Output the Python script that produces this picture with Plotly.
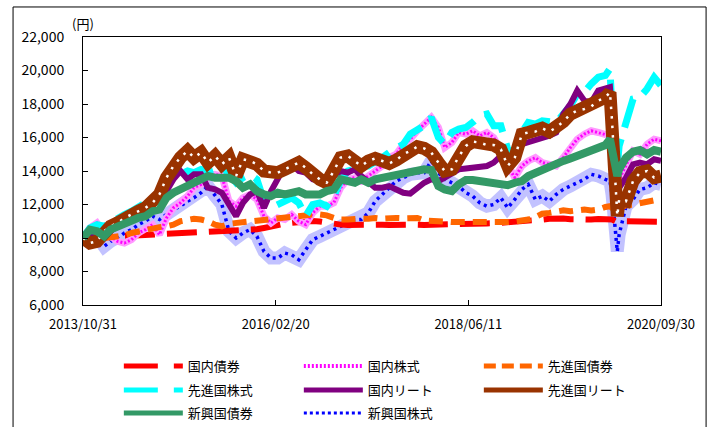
import pandas as pd
import plotly.graph_objects as go

# ---- data ----
dates = (list(pd.date_range("2013-10-31", "2020-01-31", freq="ME").strftime("%Y-%m-%d"))
         + ["2020-02-20", "2020-02-29", "2020-03-23", "2020-03-31"]
         + list(pd.date_range("2020-04-30", "2020-09-30", freq="ME").strftime("%Y-%m-%d")))

jp_bond = [10000, 10020, 10050, 10060, 10080, 10100, 10120, 10150, 10180, 10200,
           10220, 10260, 10300, 10320, 10300, 10280, 10330, 10350, 10380, 10360,
           10400, 10420, 10450, 10470, 10500, 10520, 10600, 10700, 10800, 10850,
           10900, 10950, 11000, 11020, 10980, 10900, 10850, 10800, 10780, 10800,
           10800, 10820, 10800, 10790, 10780, 10800, 10790, 10800, 10790, 10780,
           10800, 10820, 10830, 10840, 10850, 10850, 10840, 10860, 10870, 10880,
           10900, 10920, 10960, 10990, 11020, 11050, 11100, 11150, 11200, 11170,
           11120, 11100, 11080, 11100, 11130, 11150,
           11150, 11100, 10950, 10980,
           11000, 10990, 11000, 10990, 10980, 10970]

jp_stock = [10000, 10600, 10900, 10300, 10100, 9800, 9700, 9900, 10300, 10500,
            10800, 10200, 11200, 11800, 12100, 12500, 13000, 13200, 13600, 13800,
            13700, 12200, 11900, 12400, 12600, 12300, 11300, 10900, 11200, 11100,
            11400, 11000, 10800, 11500, 11900, 11900, 12100, 13000, 13500, 13600,
            13400, 13700, 14000, 14300, 14800, 15000, 15600, 15900, 16400, 16800,
            17200, 16600, 15400, 15700, 16300, 16200, 16400, 16100, 16300, 16000,
            15200, 14300, 13600, 14300, 14600, 14800, 14500, 14400, 14300, 14800,
            15400, 15900, 16200, 16400, 16300, 16200,
            16100, 14500, 12700, 13500,
            14300, 15200, 15000, 15600, 15900, 15800]

dev_bond = [10000, 10050, 10100, 10000, 10050, 10100, 10150, 10300, 10400, 10450,
            10550, 10650, 10700, 10800, 11000, 11100, 11150, 11100, 11000, 10800,
            10700, 10850, 10900, 10950, 11000, 11050, 11100, 11150, 11200, 11200,
            11250, 11300, 11350, 11400, 11400, 11350, 11200, 11100, 11100, 11150,
            11150, 11150, 11200, 11150, 11200, 11200, 11180, 11150, 11200, 11050,
            11000, 10950, 10980, 10950, 10950, 10900, 10880, 10900, 10870, 10880,
            10900, 10950, 10980, 11000, 11100, 11250, 11450, 11500, 11600, 11650,
            11600, 11650, 11700, 11650, 11700, 11850,
            11900, 11800, 11500, 11800,
            11950, 12000, 12100, 12200, 12250, 12280]

dev_stock = [10000, 10600, 10800, 10700, 10900, 11200, 11400, 11600, 11900, 12100,
             12300, 12500, 13200, 13600, 13800, 14000, 13900, 14100, 14000, 14200,
             14300, 13800, 13300, 13600, 13800, 13500, 12200, 11800, 12000, 12300,
             12400, 12100, 11300, 12000, 12100, 11900, 12500, 13400, 14000, 14100,
             14300, 14300, 14500, 14800, 15100, 15300, 15600, 16200, 16500, 16700,
             17200, 16000, 15600, 16300, 16500, 16600, 16900, 17300, 17400, 16700,
             16700, 15300, 15000, 16300, 16900, 16800, 17000, 17000, 16900, 17400,
             17900, 18600, 18700, 19200, 19600, 19700,
             20100, 17500, 14300, 15500,
             16800, 18300, 18400, 18900, 19600, 19100]

jp_reit = [10000, 10300, 10200, 10000, 10400, 10800, 11000, 11200, 11500, 11800,
           12000, 12300, 12800, 13500, 14000, 13500, 13800, 13800, 13000, 12900,
           12700, 12000, 11300, 12100, 12600, 12800, 11800, 12800, 13600, 14300,
           14400, 14000, 13900, 13500, 13400, 13300, 13700, 14000, 13900, 14100,
           13700, 13300, 13000, 13000, 13100, 12900, 12700, 12650, 13000, 13300,
           13500, 13400, 13600, 13900, 14100, 14150, 14200, 14200, 14300, 14500,
           14900, 14600, 14700, 15600, 15700, 15800, 15950, 16100, 16300, 17400,
           18000, 18800, 18200, 18100, 18800, 18900,
           19000, 17400, 12500, 13000,
           13600, 14400, 14500, 14400, 14700, 14600]

dev_reit = [10000, 9700, 9800, 10400, 10700, 10900, 11200, 11400, 11600, 11800,
            12100, 12600, 13600, 14300, 14800, 15200, 14800, 15100, 14500, 14900,
            14400, 14800, 13700, 14700, 14600, 14400, 14000, 13900, 13900, 14100,
            14300, 14500, 14200, 13800, 13500, 13300, 14000, 14800, 14900, 14600,
            14300, 14600, 14750, 14600, 14450, 14650, 15000, 15200, 15450, 15350,
            15100, 14500, 14000, 14100, 14850, 15500, 15750, 15700, 15550, 15550,
            15300, 14300, 14800, 16200, 16300, 16350, 16550, 16350, 16600, 16950,
            17400, 17600, 17700, 17850, 18200, 18400,
            18700, 17000, 11300, 12300,
            12200, 13400, 13900, 14000, 13600, 13700]

em_bond = [10000, 10500, 10400, 10100, 10500, 10700, 10900, 11100, 11200, 11300,
           11600, 11700, 12400, 12700, 12900, 13200, 13400, 13600, 13700, 13600,
           13600, 13600, 13400, 13000, 13200, 12800, 12600, 12500, 12700, 12600,
           12700, 12800, 12600, 12600, 12600, 12800, 12900, 13500, 13400, 13300,
           13500, 13300, 13500, 13600, 13700, 13700, 13800, 14000, 14050, 14100,
           14060, 13100, 12900, 12800, 13200, 13460, 13460, 13400, 13360, 13300,
           13200, 13150, 13300, 13400, 13700, 13900, 14100, 14300, 14500, 14600,
           14750, 14900, 15000, 15150, 15400, 15550,
           15900, 15100, 13700, 14100,
           14800, 15150, 15250, 15000, 15250, 15150]

em_stock = [10000, 9900, 10100, 9500, 9800, 10000, 10300, 10500, 10800, 11000,
            11300, 11100, 11400, 11700, 11900, 12200, 12400, 12700, 13100, 12500,
            12000, 10400, 10000, 10300, 10500, 10100, 9200, 8800, 8800, 9100,
            9000, 8700, 9300, 9900, 10100, 10300, 10500, 10700, 10900, 11100,
            11100, 11500, 12200, 12600, 13000, 13400, 13600, 13800, 13900, 13900,
            14600, 13900, 13500, 13300, 13100, 12700, 12500, 12100, 11900, 12000,
            12400, 11800, 12300, 12900, 13200, 12300, 12500, 12200, 12600, 12900,
            13100, 13300, 13500, 13800, 13700, 13500,
            13400, 12600, 9200, 10200,
            11900, 12300, 12900, 13000, 13300, 13200]

tick_dates = ["2013-10-31", "2016-02-20", "2018-06-11", "2020-09-30"]
tick_labels = ["2013/10/31", "2016/02/20", "2018/06/11", "2020/09/30"]
y_ticks = [6000, 8000, 10000, 12000, 14000, 16000, 18000, 20000, 22000]

for s in [jp_bond, jp_stock, dev_bond, dev_stock, jp_reit, dev_reit, em_bond, em_stock]:
    assert len(s) == len(dates)

JP = "Noto Sans CJK JP"
fig = go.Figure()


def add(y, color, width, dash=None):
    fig.add_trace(go.Scatter(
        x=dates, y=y, mode="lines", showlegend=False, hoverinfo="skip",
        line=dict(color=color, width=width, dash=dash)))


def key(name, color, width, dash, legend):
    # legend-only entry (no data) so the key symbol can be drawn thinner
    fig.add_trace(go.Scatter(
        x=[None], y=[None], name=name, mode="lines", showlegend=True, legend=legend,
        line=dict(color=color, width=width, dash=dash)))


# drawing order (bottom -> top)
add(em_stock, "rgba(0,0,255,0.24)", 13)
add(em_stock, "#0000ff", 3.5, "3px,4px")
add(jp_bond, "#ff0000", 6, "30px,12px")
add(jp_stock, "#ff99ff", 7)
add(jp_stock, "#ff00ff", 3, "2px,2px")
add(dev_bond, "#ff6600", 6, "14px,8px")
add(dev_stock, "#00ffff", 7, "30px,12px")
add(jp_reit, "#800080", 6)
add(dev_reit, "#993300", 13)
add(dev_reit, "#ffffff", 2.5, "2.5px,7px")
add(em_bond, "#339966", 8)

# legend keys, one legend per row
key("国内債券", "#ff0000", 5, "34px,16px", "legend")
key("国内株式", "#ff00ff", 4, "2px,2px", "legend")
key("先進国債券", "#ff6600", 5, "12px,6px", "legend")
key("先進国株式", "#00ffff", 5, "34px,16px", "legend2")
key("国内リート", "#800080", 5, None, "legend2")
key("先進国リート", "#993300", 5, None, "legend2")
key("新興国債券", "#339966", 5, None, "legend3")
key("新興国株式", "#0000ff", 3, "3px,3px", "legend3")

leg_common = dict(orientation="h", x=0.062, xanchor="left", yanchor="middle",
                  itemwidth=59, entrywidth=106, font=dict(family=JP, size=13),
                  traceorder="normal", bgcolor="rgba(0,0,0,0)")

fig.update_layout(
    width=719, height=427,
    margin=dict(l=83, r=58, t=37, b=122, autoexpand=False),
    paper_bgcolor="white", plot_bgcolor="white",
    font=dict(family=JP, size=13, color="black"),
    showlegend=True,
    legend=dict(y=-0.2276, **leg_common),
    legend2=dict(y=-0.317, **leg_common),
    legend3=dict(y=-0.403, **leg_common),
    xaxis=dict(type="date", range=["2013-10-31", "2020-09-30"],
               tickvals=tick_dates, ticktext=tick_labels,
               ticks="inside", ticklen=5, tickcolor="black",
               showline=True, linecolor="black", linewidth=1, mirror=True,
               showgrid=False, zeroline=False, automargin=False,
               ticklabelstandoff=7,
               tickfont=dict(family=JP, size=13)),
    yaxis=dict(range=[6000, 22000], tickvals=y_ticks, tickformat=",d",
               ticks="inside", ticklen=5, tickcolor="black",
               showline=True, linecolor="black", linewidth=1, mirror=True,
               showgrid=False, zeroline=False, automargin=False,
               ticklabelstandoff=15,
               tickfont=dict(family=JP, size=14)),
    annotations=[dict(text="(円)", xref="paper", yref="paper", x=0.0, y=1.0,
                      xanchor="center", yanchor="bottom", yshift=2, showarrow=False,
                      font=dict(family=JP, size=13))],
    shapes=[dict(type="rect", xref="paper", yref="paper",
                 x0=-0.121, x1=1.078, y0=-0.5, y1=1.112,
                 line=dict(color="black", width=1), layer="below")],
)

fig.write_html("out.html", config={"displayModeBar": False},
               post_script="document.body.style.margin='0';document.body.style.overflow='hidden';")
